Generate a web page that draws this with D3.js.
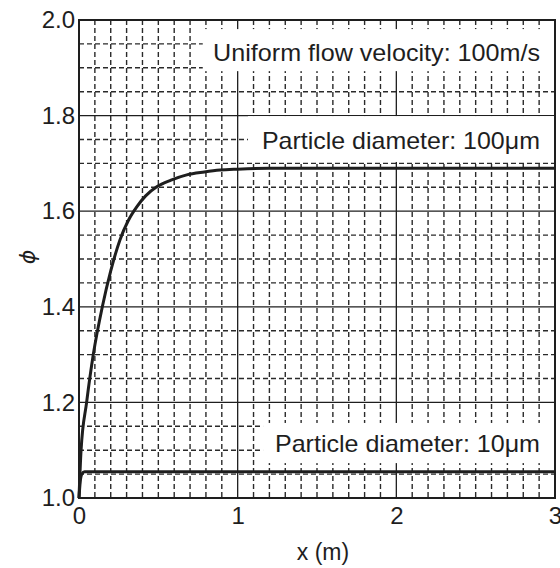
<!DOCTYPE html>
<html>
<head>
<meta charset="utf-8">
<script src="https://cdn.jsdelivr.net/npm/d3@7"></script>
<style>
  html, body { margin: 0; padding: 0; background: #fff; }
  svg { display: block; font-family: "Liberation Sans", Arial, sans-serif; }
</style>
</head>
<body>
<svg id="chart" width="560" height="568"></svg>
<script>
// Distance along the duct (m)
const xLarge = [0, 0.013, 0.048, 0.09, 0.147, 0.2, 0.258, 0.31, 0.364, 0.42, 0.49, 0.58, 0.679, 0.79, 0.889, 1.0, 1.2, 1.5, 2.0, 2.5, 3.0];
// phi for 100 μm particles
const phiLarge = [1.0, 1.10, 1.20, 1.30, 1.40, 1.475, 1.54, 1.58, 1.609, 1.632, 1.651, 1.665, 1.676, 1.682, 1.686, 1.688, 1.690, 1.690, 1.690, 1.690, 1.690];
// phi for 10 μm particles
const xSmall = [0, 0.008, 0.018, 0.035, 0.06, 3.0];
const phiSmall = [1.0, 1.035, 1.05, 1.055, 1.055, 1.055];

const xTicks = [0, 1, 2, 3];
const yTicks = [1.0, 1.2, 1.4, 1.6, 1.8, 2.0];
const xTitle = "x (m)";
const yTitle = "\u03D5";

// Annotations: text, anchor position (data units), text width and white backing box
const notes = [
  { text: "Uniform flow velocity: 100m/s", x: 0.845, y: 1.915, w: 327, box: [0.78, 3.0, 1.893, 1.981] },
  { text: "Particle diameter: 100\u03BCm", x: 1.153, y: 1.731, w: 278, box: [1.065, 3.0, 1.703, 1.799] },
  { text: "Particle diameter: 10\u03BCm", x: 1.235, y: 1.096, w: 265, box: [1.16, 3.0, 1.073, 1.157] }
];

const svg = d3.select("#chart");
const m = { left: 79, right: 555, top: 20, bottom: 498 };
const x = d3.scaleLinear().domain([0, 3]).range([m.left, m.right]);
const y = d3.scaleLinear().domain([1.0, 2.0]).range([m.bottom, m.top]);
const ink = "#1e1e1e";

// Minor dashed grid: every 0.1 m and every 0.05 in phi
const xMinor = d3.range(1, 30).map(i => i / 10).filter(v => Math.abs(v - Math.round(v)) > 1e-6);
const yMinor = d3.range(1, 20).map(i => 1 + i / 20).filter(v => Math.abs(v * 5 - Math.round(v * 5)) > 1e-6);
const grid = svg.append("g");
grid.selectAll("line.vx").data(xMinor).join("line")
  .attr("x1", d => x(d)).attr("x2", d => x(d)).attr("y1", m.top).attr("y2", m.bottom)
  .attr("stroke", "#2a2a2a").attr("stroke-width", 1.4).attr("stroke-dasharray", "5,3");
grid.selectAll("line.hy").data(yMinor).join("line")
  .attr("x1", m.left).attr("x2", m.right).attr("y1", d => y(d)).attr("y2", d => y(d))
  .attr("stroke", "#2a2a2a").attr("stroke-width", 1.4).attr("stroke-dasharray", "5,3");
// Major solid grid
grid.selectAll("line.mx").data([1, 2]).join("line")
  .attr("x1", d => x(d)).attr("x2", d => x(d)).attr("y1", m.top).attr("y2", m.bottom)
  .attr("stroke", ink).attr("stroke-width", 1.3);
grid.selectAll("line.my").data([1.2, 1.4, 1.6, 1.8]).join("line")
  .attr("x1", m.left).attr("x2", m.right).attr("y1", d => y(d)).attr("y2", d => y(d))
  .attr("stroke", ink).attr("stroke-width", 1.3);

// Annotation boxes and text
const ann = svg.append("g");
ann.selectAll("rect").data(notes).join("rect")
  .attr("x", d => x(d.box[0])).attr("width", d => x(d.box[1]) - x(d.box[0]))
  .attr("y", d => y(d.box[3])).attr("height", d => y(d.box[2]) - y(d.box[3]))
  .attr("fill", "#fff");
ann.selectAll("text").data(notes).join("text")
  .attr("x", d => x(d.x)).attr("y", d => y(d.y))
  .attr("font-size", 24).attr("fill", ink)
  .attr("textLength", d => d.w).attr("lengthAdjust", "spacingAndGlyphs")
  .text(d => d.text);

// Curves
const line = d3.line().x(d => x(d[0])).y(d => y(d[1])).curve(d3.curveMonotoneX);
svg.append("path").datum(d3.zip(xLarge, phiLarge)).attr("d", line)
  .attr("fill", "none").attr("stroke", ink).attr("stroke-width", 3);
svg.append("path").datum(d3.zip(xSmall, phiSmall)).attr("d", line)
  .attr("fill", "none").attr("stroke", ink).attr("stroke-width", 3);

// Frame
svg.append("rect").attr("x", m.left).attr("y", m.top)
  .attr("width", m.right - m.left).attr("height", m.bottom - m.top)
  .attr("fill", "none").attr("stroke", ink).attr("stroke-width", 2);

// Axes (labels only)
const xAxis = svg.append("g").attr("transform", `translate(0,${m.bottom})`)
  .call(d3.axisBottom(x).tickValues(xTicks).tickFormat(d3.format("d")).tickSize(0).tickPadding(9));
const yAxis = svg.append("g").attr("transform", `translate(${m.left},0)`)
  .call(d3.axisLeft(y).tickValues(yTicks).tickFormat(d3.format(".1f")).tickSize(0).tickPadding(4));
[xAxis, yAxis].forEach(a => {
  a.select(".domain").remove();
  a.selectAll("text").attr("font-size", 24).attr("fill", ink)
    .attr("font-family", "Liberation Sans, Arial, sans-serif");
});

svg.append("text").attr("x", 323).attr("y", 560).attr("text-anchor", "middle")
  .attr("font-size", 23).attr("fill", ink).text(xTitle);
svg.append("text").attr("transform", "translate(27,257) rotate(-90)")
  .attr("text-anchor", "middle").attr("dy", "0.35em").attr("font-size", 22).attr("font-style", "italic")
  .attr("font-family", "DejaVu Sans, sans-serif").attr("fill", ink).text(yTitle);
</script>
</body>
</html>
